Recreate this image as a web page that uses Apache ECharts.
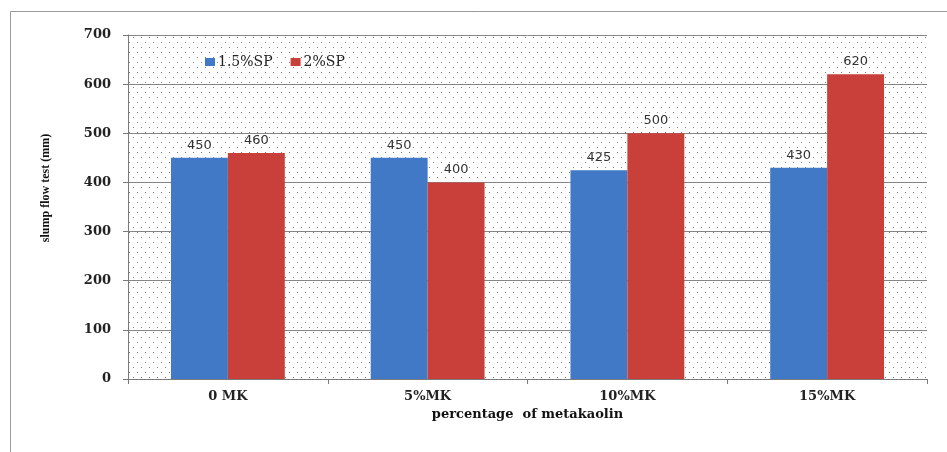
<!DOCTYPE html>
<html>
<head>
<meta charset="utf-8">
<script src="https://cdn.jsdelivr.net/npm/echarts@6/dist/echarts.min.js"></script>
<style>
  html, body { margin: 0; padding: 0; background: #ffffff; }
  #chart { width: 947px; height: 452px; }
</style>
</head>
<body>
<div id="chart"></div>
<script>
// Slump flow of mixes with different metakaolin contents and superplasticizer doses
const categories = ['0 MK', '5%MK', '10%MK', '15%MK'];
const sp15 = [450, 450, 425, 430];
const sp20 = [460, 400, 500, 620];
const seriesNames = ['1.5%SP', '2%SP'];
const yTicks = [0, 100, 200, 300, 400, 500, 600, 700];

// Dotted fill for the plotting area
function dotPattern() {
  const c = document.createElement('canvas');
  c.width = 8; c.height = 10;
  const g = c.getContext('2d');
  g.fillStyle = '#ffffff';
  g.fillRect(0, 0, 8, 10);
  g.fillStyle = '#808080';
  g.fillRect(1, 2, 1, 1);
  g.fillRect(5, 7, 1, 1);
  return { image: c, repeat: 'repeat' };
}

const serifWide = '"DejaVu Serif", "Liberation Serif", serif';
const serif = '"Liberation Serif", "DejaVu Serif", serif';
const sans = '"DejaVu Sans", "Liberation Sans", sans-serif';
const chart = echarts.init(document.getElementById('chart'), null, { renderer: 'canvas' });

const valueLabel = { show: true, position: 'top', distance: 6, fontFamily: sans, fontSize: 13, color: '#333' };

chart.setOption({
  animation: false,
  backgroundColor: '#ffffff',
  graphic: [
    { type: 'line', shape: { x1: 10.5, y1: 11.5, x2: 947, y2: 11.5 }, style: { stroke: '#9a9a9a', lineWidth: 1 } },
    { type: 'line', shape: { x1: 10.5, y1: 11.5, x2: 10.5, y2: 452 }, style: { stroke: '#9a9a9a', lineWidth: 1 } }
  ],
  grid: {
    left: 128, right: 20, top: 35, bottom: 73,
    show: true,
    backgroundColor: dotPattern(),
    borderWidth: 0
  },
  legend: {
    left: 200, top: 50,
    itemWidth: 10, itemHeight: 8, itemGap: 18,
    icon: 'rect',
    textStyle: { fontFamily: serifWide, fontSize: 14, color: '#222', padding: [0, 0, 0, -2] },
    data: seriesNames
  },
  xAxis: {
    type: 'category',
    data: categories,
    name: 'percentage  of metakaolin',
    nameLocation: 'middle',
    nameGap: 28,
    nameTextStyle: { fontFamily: serifWide, fontWeight: 'bold', fontSize: 13, color: '#111' },
    axisLine: { lineStyle: { color: '#7a7a7a' } },
    axisTick: { show: true, alignWithLabel: false, length: 5, inside: false, lineStyle: { color: '#7a7a7a' } },
    axisLabel: { fontFamily: serifWide, fontWeight: 'bold', fontSize: 13, color: '#222', margin: 11 }
  },
  yAxis: {
    type: 'value',
    min: yTicks[0], max: yTicks[yTicks.length - 1], interval: 100,
    name: 'slump flow test (mm)',
    nameLocation: 'middle',
    nameGap: 76,
    nameTextStyle: { fontFamily: serif, fontWeight: 'bold', fontSize: 12, color: '#111', padding: [0, 0, 0, 38] },
    axisLine: { show: true, lineStyle: { color: '#7a7a7a' } },
    axisTick: { show: true, length: 5, lineStyle: { color: '#7a7a7a' } },
    splitLine: { show: true, lineStyle: { color: '#858585', width: 1 } },
    axisLabel: { fontFamily: serifWide, fontWeight: 'bold', fontSize: 13, color: '#222', margin: 17 }
  },
  series: [
    {
      name: seriesNames[0], type: 'bar', data: sp15,
      barWidth: '28.5%', barGap: '0%',
      itemStyle: { color: '#4179C6' },
      label: valueLabel
    },
    {
      name: seriesNames[1], type: 'bar', data: sp20,
      barWidth: '28.5%', barGap: '0%',
      itemStyle: { color: '#C9403B' },
      label: valueLabel
    }
  ]
});
</script>
</body>
</html>
